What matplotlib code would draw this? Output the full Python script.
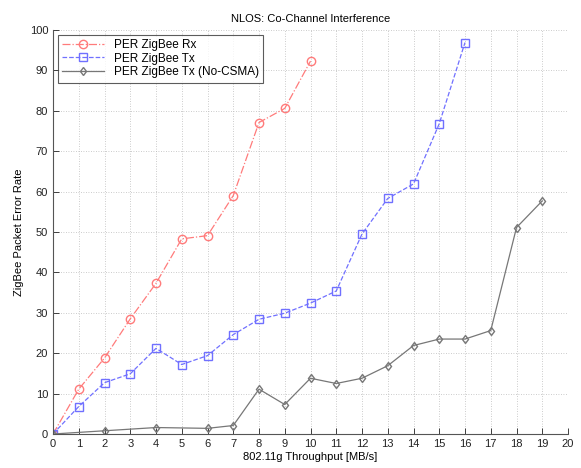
import matplotlib
matplotlib.use("Agg")
import matplotlib.pyplot as plt

rx_x = [0, 1, 2, 3, 4, 5, 6, 7, 8, 9, 10]
rx_y = [0, 11.1, 18.8, 28.5, 37.3, 48.3, 49.1, 59.0, 77.1, 80.6, 92.3]
tx_x = list(range(0, 17))
tx_y = [0, 6.8, 12.7, 14.9, 21.2, 17.2, 19.4, 24.6, 28.4, 29.9, 32.4, 35.4, 49.5, 58.3, 61.9, 76.8, 96.9]
nc_x = [0, 2, 4, 6, 7, 8, 9, 10, 11, 12, 13, 14, 15, 16, 17, 18, 19]
nc_y = [0, 0.8, 1.6, 1.4, 2.1, 11.1, 7.3, 13.8, 12.5, 13.8, 16.9, 21.9, 23.5, 23.5, 25.6, 51.1, 57.7]

plt.rcParams['font.family'] = ['Liberation Sans', 'DejaVu Sans']
fig = plt.figure(figsize=(5.81, 4.68), dpi=100)
ax = fig.add_axes([53/581, 1-434/468, (568-53)/581, (434-30)/468])

ax.plot(rx_x, rx_y, color='#ff7b7b', linestyle='-.', marker='o', markersize=6,
        markerfacecolor='none', markeredgecolor='#ff7b7b', linewidth=0.9, label='PER ZigBee Rx')
ax.plot(tx_x, tx_y, color='#7070ff', linestyle='--', marker='s', markersize=5.5,
        markerfacecolor='none', markeredgecolor='#7070ff', linewidth=0.9, label='PER ZigBee Tx')
ax.plot(nc_x, nc_y, color='#777777', linestyle='-', marker='d', markersize=4.5,
        markerfacecolor='none', markeredgecolor='#777777', linewidth=0.9, label='PER ZigBee Tx (No-CSMA)')

ax.set_xlim(0, 20)
ax.set_ylim(0, 100)
ax.set_xticks(range(0, 21))
ax.set_yticks(range(0, 101, 10))
ax.tick_params(direction='in', labelsize=8, colors='#222222', length=4, width=0.6)
for s in ['top', 'right']:
    ax.spines[s].set_visible(False)
for s in ['left', 'bottom']:
    ax.spines[s].set_color('#555555')
    ax.spines[s].set_linewidth(0.8)
ax.grid(True, linestyle=(0, (1, 2)), color='#bbbbbb', linewidth=0.6)
ax.set_title('NLOS: Co-Channel Interference', fontsize=8, pad=6)
ax.set_xlabel('802.11g Throughput [MB/s]', fontsize=8, labelpad=2)
ax.set_ylabel('ZigBee Packet Error Rate', fontsize=8, labelpad=4)
leg = ax.legend(loc='upper left', fontsize=8.5, frameon=True, fancybox=False,
                edgecolor='#333333', borderaxespad=0.4, handlelength=3.6,
                labelspacing=0.15, borderpad=0.35)
leg.get_frame().set_linewidth(0.8)

fig.savefig('out.png', dpi=100)
